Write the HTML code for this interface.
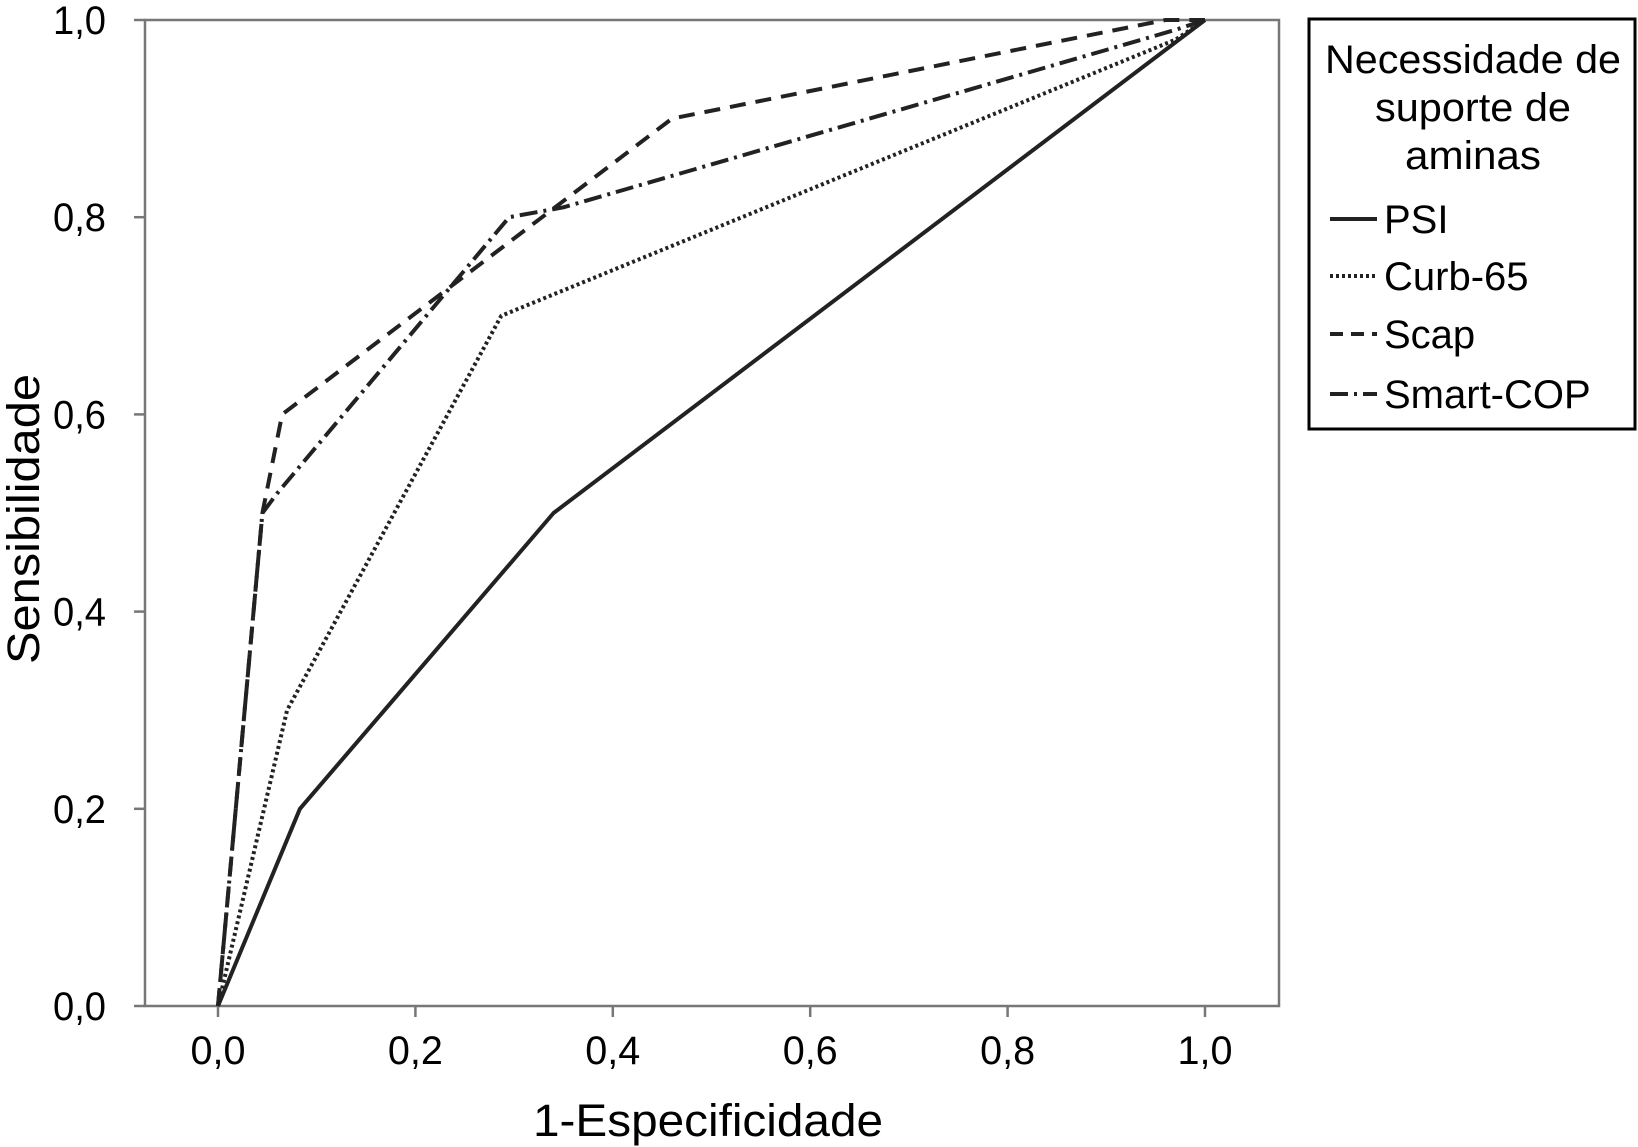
<!DOCTYPE html>
<html><head><meta charset="utf-8"><style>
html,body{margin:0;padding:0;background:#fff;}
svg{display:block;font-family:"Liberation Sans",sans-serif;}
</style></head><body>
<svg id="chart" width="1638" height="1147" viewBox="0 0 1638 1147">
<g id="axes"></g><g id="series"></g><g id="legend"></g>
</svg>
<script>
const xTicks = [0, 0.2, 0.4, 0.6, 0.8, 1.0];
const yTicks = [0, 0.2, 0.4, 0.6, 0.8, 1.0];
const tickLabels = ["0,0", "0,2", "0,4", "0,6", "0,8", "1,0"];
const seriesNames = ["PSI", "Curb-65", "Scap", "Smart-COP"];
const psiX = [0, 0.083, 0.34, 1];
const psiY = [0, 0.2, 0.5, 1];
const curbX = [0, 0.07, 0.287, 0.97, 1];
const curbY = [0, 0.3, 0.7, 0.98, 1];
const scapX = [0, 0.045, 0.065, 0.46, 0.96, 1];
const scapY = [0, 0.5, 0.6, 0.9, 1.0, 1];
const smartX = [0, 0.045, 0.06, 0.295, 0.35, 0.97, 1];
const smartY = [0, 0.5, 0.52, 0.8, 0.81, 0.99, 1];

const NS = "http://www.w3.org/2000/svg";
const X0 = 218, X1 = 1205, Y0 = 1006, Y1 = 20;
const sx = v => X0 + v * (X1 - X0);
const sy = v => Y0 - v * (Y0 - Y1);
function mk(tag, attrs, parent, text) {
  const e = document.createElementNS(NS, tag);
  for (const k in attrs) e.setAttribute(k, attrs[k]);
  if (text !== undefined) e.textContent = text;
  parent.appendChild(e);
  return e;
}
const axes = document.getElementById('axes');
const frame = mk('rect', {x:145, y:20, width:1134, height:986, fill:'none', stroke:'#777', 'stroke-width':2.5}, axes);


yTicks.forEach((v, i) => {
  const t = mk('line', {x1:134, x2:145, y1:sy(v), y2:sy(v), stroke:'#777', 'stroke-width':2.5}, axes);
  
  
  const l = mk('text', {x:106, y:sy(v)+14, 'text-anchor':'end', 'font-size':40, textLength:53, lengthAdjust:'spacingAndGlyphs'}, axes, tickLabels[i]);
  
  
});
xTicks.forEach((v, i) => {
  const t = mk('line', {x1:sx(v), x2:sx(v), y1:1006, y2:1017, stroke:'#777', 'stroke-width':2.5}, axes);
  
  
  const l = mk('text', {x:sx(v), y:1064, 'text-anchor':'middle', 'font-size':40, textLength:55, lengthAdjust:'spacingAndGlyphs'}, axes, tickLabels[i]);
  
  
});
const xt = mk('text', {x:708, y:1136, 'text-anchor':'middle', 'font-size':45, textLength:350, lengthAdjust:'spacingAndGlyphs'}, axes, '1-Especificidade');


const yt = mk('text', {x:0, y:0, 'text-anchor':'middle', 'font-size':45, textLength:290, lengthAdjust:'spacingAndGlyphs', transform:'translate(39,519) rotate(-90)'}, axes, 'Sensibilidade');



const styles = [
  {dash:'none', w:4},
  {dash:'3 3', w:4},
  {dash:'16 10', w:4},
  {dash:'18 6 3 6', w:4}
];
const xs = [psiX, curbX, scapX, smartX];
const ys = [psiY, curbY, scapY, smartY];
const sg = document.getElementById('series');
xs.forEach((arr, i) => {
  const pts = arr.map((x, j) => sx(x) + ',' + sy(ys[i][j])).join(' ');
  const p = mk('polyline', {points:pts, fill:'none', stroke:'#222', 'stroke-width':styles[i].w, 'stroke-dasharray':styles[i].dash, 'stroke-linejoin':'round'}, sg);
  
  
});

const lg = document.getElementById('legend');
const box = mk('rect', {x:1309, y:19, width:326, height:410, fill:'#fff', stroke:'#000', 'stroke-width':3}, lg);


["Necessidade de", "suporte de", "aminas"].forEach((s, i) => {
  const t = mk('text', {x:1473, y:73 + i*48, 'text-anchor':'middle', 'font-size':40, textLength:[296,196,136][i], lengthAdjust:'spacingAndGlyphs'}, lg, s);
  
  
});
const ly = [219, 276, 334, 394];
seriesNames.forEach((n, i) => {
  const g = mk('g', {}, lg);
  
  
  mk('line', {x1:1330, x2:1377, y1:ly[i], y2:ly[i], stroke:'#222', 'stroke-width':4, 'stroke-dasharray':i===2?'13 8':styles[i].dash}, g);
  mk('text', {x:1384, y:ly[i]+14, 'font-size':40}, g, n);
});
</script>
</body></html>
